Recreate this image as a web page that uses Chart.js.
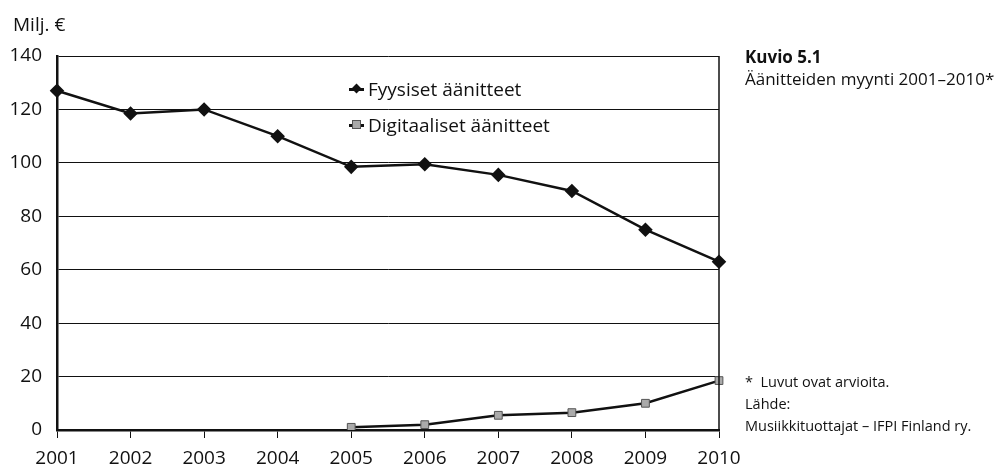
<!DOCTYPE html>
<html>
<head>
<meta charset="utf-8">
<script src="https://cdn.jsdelivr.net/npm/chart.js@4/dist/chart.umd.min.js"></script>
<style>
	html, body { margin: 0; padding: 0; background: #fff; }
	#wrap { position: relative; width: 1008px; height: 469px; font-family: "Open Sans", sans-serif; color: #111; }
	#grafico { position: absolute; left: 0; top: 0; }
	.txt { position: absolute; white-space: nowrap; }
	.legenda { position: absolute; left: 349px; font-size: 19px; line-height: 22px; }
	.legenda .linha { position: absolute; left: 0; top: 10px; width: 15px; height: 2.5px; background: #111; }
	.legenda .marca { position: absolute; }
	.legenda span { position: absolute; left: 19px; top: 0px; white-space: nowrap; }
</style>
</head>
<body>
<div id="wrap">
	<canvas id="grafico" width="1008" height="469"></canvas>
	<div class="txt" style="left:13px; top:11px; font-size:19px;">Milj. €</div>

	<div class="legenda" style="top:78px;">
		<div class="linha"></div>
		<div class="marca" style="left:4px; top:7px; width:7px; height:7px; background:#111; transform:rotate(45deg);"></div>
		<span>Fyysiset äänitteet</span>
	</div>
	<div class="legenda" style="top:114px;">
		<div class="linha"></div>
		<div class="marca" style="left:3px; top:6px; width:7px; height:7px; background:#aaa; border:1px solid #555;"></div>
		<span>Digitaaliset äänitteet</span>
	</div>

	<div class="txt" style="left:745px; top:45px; font-size:17px; font-weight:bold;">Kuvio 5.1</div>
	<div class="txt" style="left:745px; top:67px; font-size:17px;">Äänitteiden myynti 2001–2010*</div>
	<div class="txt" style="left:745px; top:372px; font-size:14.5px;">*&nbsp; Luvut ovat arvioita.</div>
	<div class="txt" style="left:745px; top:394px; font-size:14.5px;">Lähde:</div>
	<div class="txt" style="left:745px; top:416px; font-size:14.5px;">Musiikkituottajat – IFPI Finland ry.</div>
</div>

<script>
var vuodet = ['2001', '2002', '2003', '2004', '2005', '2006', '2007', '2008', '2009', '2010'];
var fyysiset = [127, 118.5, 120, 110, 98.5, 99.5, 95.5, 89.5, 75, 63];
var digitaaliset = [null, null, null, null, 1, 2, 5.5, 6.5, 10, 18.5];
var yTicks = [0, 20, 40, 60, 80, 100, 120, 140];

var Grafico = (function() {

	function Grafico() {
		this.canvas = document.getElementById('grafico');
	}

	Grafico.prototype.iniciar = function() {
		var ctx = this.canvas.getContext('2d');
		var fonte = { family: '"Open Sans", sans-serif', size: 19 };

		// borda direita da area do grafico
		var bordaDireita = {
			id: 'bordaDireita',
			afterDraw: function(chart) {
				var a = chart.chartArea;
				var c = chart.ctx;
				c.save();
				c.strokeStyle = '#111';
				c.lineWidth = 1.5;
				c.beginPath();
				c.moveTo(a.right, a.top);
				c.lineTo(a.right, a.bottom);
				c.stroke();
				c.restore();
			}
		};

		new Chart(ctx, {
			type: 'line',
			data: {
				labels: vuodet,
				datasets: [{
					label: 'Fyysiset äänitteet',
					data: fyysiset,
					borderColor: '#111',
					borderWidth: 2.5,
					pointStyle: 'rectRot',
					pointRadius: 5.5,
					pointBackgroundColor: '#111',
					pointBorderColor: '#111',
					tension: 0
				},
				{
					label: 'Digitaaliset äänitteet',
					data: digitaaliset,
					borderColor: '#111',
					borderWidth: 2.5,
					pointStyle: 'rect',
					pointRadius: 5.5,
					pointBackgroundColor: '#aaa',
					pointBorderColor: '#555',
					pointBorderWidth: 1,
					tension: 0
				}]
			},
			options: {
				responsive: false,
				animation: false,
				layout: { padding: { left: 0, right: 289, top: 56, bottom: 0 } },
				plugins: { legend: { display: false }, tooltip: { enabled: false } },
				scales: {
					x: {
						offset: false,
						afterFit: function(s) { s.height = 39; },
						grid: { drawOnChartArea: false, drawTicks: true, tickLength: 8, color: '#111', lineWidth: 1 },
						border: { color: '#111', width: 2.5 },
						ticks: { color: '#111', font: fonte, padding: 9, maxRotation: 0 }
					},
					y: {
						min: 0,
						max: 140,
						afterFit: function(s) { s.width = 57; },
						afterBuildTicks: function(s) { s.ticks = yTicks.map(function(v) { return { value: v }; }); },
						grid: { drawTicks: false, color: '#111', lineWidth: 1 },
						border: { color: '#111', width: 2.5 },
						ticks: { color: '#111', font: fonte, padding: 15 }
					}
				}
			},
			plugins: [bordaDireita]
		});
	};

	return Grafico;

})();

new Grafico().iniciar();
</script>
</body>
</html>
